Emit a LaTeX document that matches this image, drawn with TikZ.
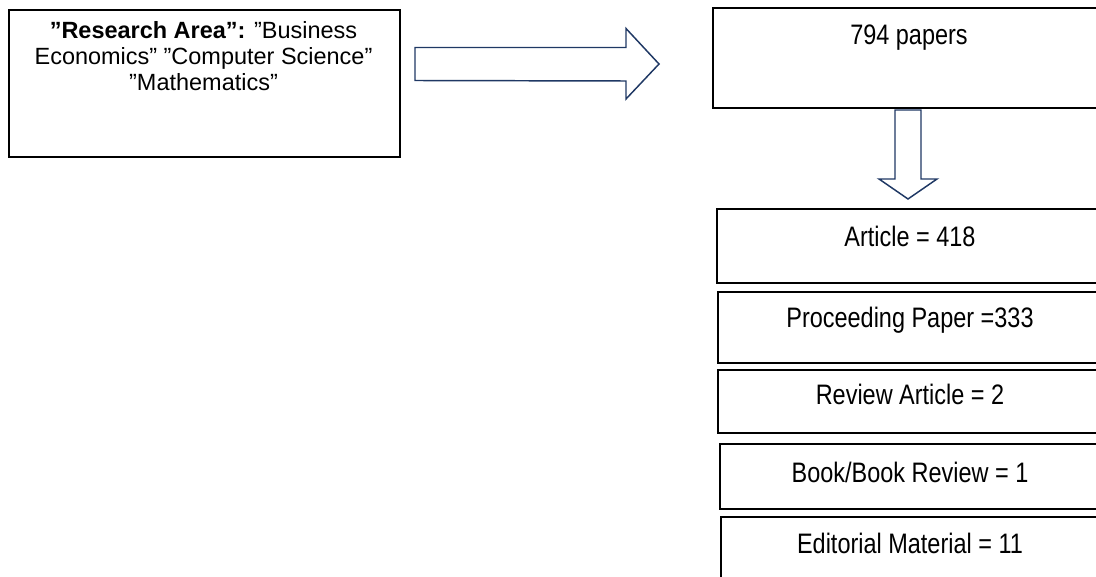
\documentclass[tikz,border=0pt]{standalone}
\usepackage{fontspec}
\setmainfont{Liberation Sans}
\usetikzlibrary{calc}
\definecolor{arrowblue}{RGB}{31,56,100}
\newcommand{\tall}[1]{\scalebox{1}[1.2]{#1}}
\begin{document}
\begin{tikzpicture}[x=0.75pt,y=-0.75pt,
  box/.style={draw=black,line width=1.4pt,rectangle,anchor=north west,inner sep=0pt,fill=none},
  txt/.style={inner sep=0pt,anchor=base,font=\fontsize{17.6}{19.9}\selectfont},
  blockarrow/.style={draw=arrowblue,line width=1.1pt,fill=white,line join=miter}]
\useasboundingbox (0,0) rectangle (1096,577);
\clip (0,0) rectangle (1096,577);
% boxes
\node[box,minimum width=391*0.75pt,minimum height=147*0.75pt] (area) at (8,9) {};
\node[box,minimum width=394*0.75pt,minimum height=100*0.75pt] (papers) at (712,7) {};
\node[box,minimum width=388*0.75pt,minimum height=74*0.75pt] (article) at (716,208) {};
\node[box,minimum width=386*0.75pt,minimum height=71*0.75pt] (proc) at (717,291) {};
\node[box,minimum width=386*0.75pt,minimum height=63*0.75pt] (review) at (717,369) {};
\node[box,minimum width=382*0.75pt,minimum height=65*0.75pt] (book) at (719,443) {};
\node[box,minimum width=380*0.75pt,minimum height=90*0.75pt] (edit) at (720,516) {};
% texts
\node[txt] (areatxta) at (203.5,38.5) {\textbf{”Research Area”:} ”Business};
\node[txt] (areatxtb) at (203.5,65) {Economics” ”Computer Science”};
\node[txt] (areatxtc) at (203.5,91) {”Mathematics”};
\node[txt] (paperstxt) at (909,45) {\tall{794 papers}};
\node[txt] (articletxt) at (910,247) {\tall{Article = 418}};
\node[txt] (proctxt) at (910,328) {\tall{Proceeding Paper =333}};
\node[txt] (reviewtxt) at (910,404) {\tall{Review Article = 2}};
\node[txt] (booktxt) at (910,482) {\tall{Book/Book Review = 1}};
\node[txt] (edittxt) at (910,553) {\tall{Editorial Material = 11}};
% block arrows
\coordinate (r0) at (415,64);
\draw[blockarrow] ($(r0)+(0,-16.5)$) -- ++(211,0) -- ++(0,-19) -- (659,64)
  -- (626,99) -- ++(0,-18) -- ($(r0)+(0,16.5)$) -- cycle;
\coordinate (d0) at (908,110);
\draw[blockarrow] ($(d0)+(-13,0)$) -- ++(26,0) -- ++(0,69) -- ++(16,0) -- (908,199)
  -- (879,179) -- ++(16,0) -- cycle;
\end{tikzpicture}
\end{document}
